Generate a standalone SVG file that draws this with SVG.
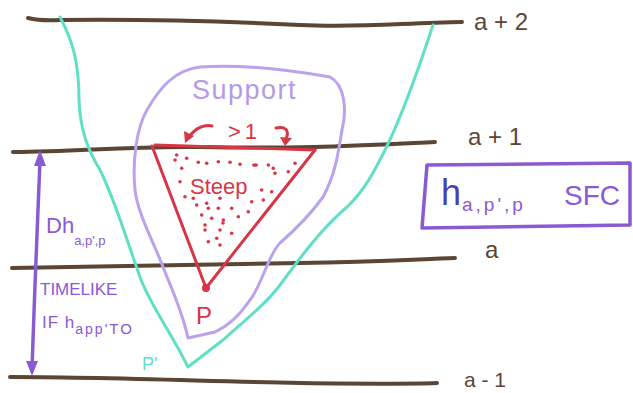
<svg xmlns="http://www.w3.org/2000/svg" width="633" height="393" viewBox="0 0 633 393">
<style>
.brown{fill:none;stroke:#5b4535;stroke-width:4;stroke-linecap:round}
.lbl{font-family:"Liberation Sans",sans-serif;fill:#5b4535}
.cyan{fill:none;stroke:#5fe0c6;stroke-width:3;stroke-linecap:round;stroke-linejoin:round}
.sup{fill:none;stroke:#bba2ea;stroke-width:3;stroke-linejoin:round}
.red{fill:none;stroke:#d83545;stroke-width:3;stroke-linecap:round;stroke-linejoin:round}
.dots circle{fill:#d83545}
.pur{fill:none;stroke:#8a5ad2;stroke-width:3.5;stroke-linecap:round;stroke-linejoin:round}
.t{font-family:"Liberation Sans",sans-serif}
</style>
<rect width="633" height="393" fill="#fff"/>
<g id="levels">
<path class="brown" d="M28,18 Q40,21 60,20 C150,19 220,21 300,25 C360,28 400,23 462,22"/>
<path class="brown" d="M13,152 C80,152 120,146 200,147 C300,149 350,146 435,142"/>
<path class="brown" d="M12,268 C100,267 200,264 300,263 C380,262 420,259 455,258"/>
<path class="brown" d="M10,377 C100,377 200,381 300,383 C380,384 410,384 437,383"/>
<text class="lbl" x="474" y="30" font-size="24">a + 2</text>
<text class="lbl" x="468" y="145" font-size="24">a + 1</text>
<text class="lbl" x="485" y="258" font-size="24">a</text>
<text class="lbl" x="464" y="387" font-size="21">a - 1</text>
</g>
<g id="cone">
<path class="cyan" d="M60,17 C72,40 79,60 79,100 C80,130 88,150 100,170 C115,200 125,235 140,277 C150,305 170,330 188,367 L223,340 C245,320 265,305 280,285 C300,258 320,230 347,207 C365,190 375,170 385,150 C400,120 415,80 433,25"/>
<text class="t" x="142" y="370" font-size="18" fill="#5fe0c6">P'</text>
</g>
<g id="support">
<path class="sup" d="M188,338 C182,310 170,285 163,267 C155,245 138,215 135,190 C132,160 137,127 147,110 C160,87 175,70 200,67 C240,64 290,70 330,77 C345,85 347,110 342,130 C338,155 335,175 323,197 C310,215 295,230 280,243 C268,255 262,285 250,300 C240,315 230,325 215,332 Z"/>
<text class="t" x="192" y="99" font-size="27" letter-spacing="1.5" fill="#b49ae6">Support</text>
</g>
<g id="steep">
<path class="red" d="M155,145 L315,150" stroke-width="5"/>
<path class="red" d="M152,146 L206,288 L315,150"/>
<circle cx="206" cy="288" r="4" fill="#d83545"/>
<path class="red" d="M212,126 C205,124 195,128 189,137"/>
<polygon points="185,143 184,131 194,136" fill="#d83545"/>
<path class="red" d="M276,128 C285,126 290,130 286,139"/>
<polygon points="285,146 280,137 292,138" fill="#d83545"/>
<text class="t" x="228" y="139" font-size="22" letter-spacing="4" fill="#d83545">&gt;1</text>
<text class="t" x="190" y="194" font-size="22" fill="#d83545">Steep</text>
<text class="t" x="196" y="324" font-size="24" fill="#d83545">P</text>
<g class="dots">
<circle cx="176.7" cy="155" r="1.8"/><circle cx="175" cy="160" r="1.8"/><circle cx="186.7" cy="158.3" r="1.8"/>
<circle cx="198.3" cy="162.3" r="1.8"/><circle cx="206.7" cy="163.3" r="1.8"/><circle cx="218.3" cy="161.7" r="1.8"/>
<circle cx="230" cy="162.3" r="1.8"/><circle cx="240" cy="164.3" r="1.8"/><ellipse cx="255" cy="165" rx="3" ry="1.8" fill="#d83545"/>
<circle cx="268.3" cy="165" r="1.8"/><circle cx="273.3" cy="168.3" r="1.8"/><circle cx="275" cy="173.3" r="1.8"/>
<circle cx="295" cy="163.3" r="1.8"/><circle cx="288.3" cy="171.7" r="1.8"/><circle cx="181.7" cy="168.3" r="1.8"/>
<circle cx="180" cy="181.7" r="1.8"/><circle cx="271.7" cy="191.7" r="1.8"/><circle cx="261.7" cy="190" r="1.8"/>
<circle cx="263.3" cy="200" r="1.8"/><circle cx="251.7" cy="201.7" r="1.8"/><circle cx="185" cy="196.7" r="1.8"/>
<circle cx="193.3" cy="198.3" r="1.8"/><circle cx="196.7" cy="205" r="1.8"/><circle cx="206.7" cy="203.3" r="1.8"/>
<circle cx="208.3" cy="208.3" r="1.8"/><circle cx="220" cy="198.3" r="1.8"/><circle cx="218.3" cy="208.3" r="1.8"/>
<circle cx="231.7" cy="208.3" r="1.8"/><circle cx="238.3" cy="216.7" r="1.8"/><circle cx="248.3" cy="211.7" r="1.8"/>
<circle cx="201.7" cy="215" r="1.8"/><circle cx="211.7" cy="218.3" r="1.8"/><circle cx="223.3" cy="220" r="1.8"/>
<circle cx="205" cy="225" r="1.8"/><circle cx="205" cy="230" r="1.8"/><circle cx="220" cy="230" r="1.8"/>
<circle cx="231.7" cy="233.3" r="1.8"/><circle cx="216.7" cy="238.3" r="1.8"/><circle cx="208.3" cy="241.7" r="1.8"/>
<circle cx="220" cy="245" r="1.8"/><circle cx="223" cy="223" r="1.8"/>
</g>
</g>
<g id="sfc">
<path class="pur" d="M427,165 L630,163 L630,225 L422,228 Z" stroke-width="4"/>
<text class="t" x="441" y="205" font-size="36" fill="#4a3eb8">h</text>
<text class="t" x="462" y="211" font-size="19" letter-spacing="3" fill="#8a5ad2">a,p',p</text>
<text class="t" x="564" y="205" font-size="28" fill="#8a5ad2">SFC</text>
</g>
<g id="timelike">
<path class="pur" d="M40,160 C38,220 34,300 32,368"/>
<polygon points="40,150 34,166 46,166" fill="#8a5ad2"/>
<polygon points="32,376 26,361 38,361" fill="#8a5ad2"/>
<text class="t" x="46" y="233" font-size="22" fill="#8a5ad2">Dh<tspan font-size="13" dy="12">a,p',p</tspan></text>
<text class="t" x="40" y="295" font-size="17" fill="#8a5ad2">TIMELIKE</text>
<text class="t" x="42" y="328" font-size="17" letter-spacing="1" fill="#8a5ad2">IF h<tspan font-size="14" dy="6" letter-spacing="2">app'</tspan><tspan font-size="15" letter-spacing="2">TO</tspan></text>
</g>
</svg>
